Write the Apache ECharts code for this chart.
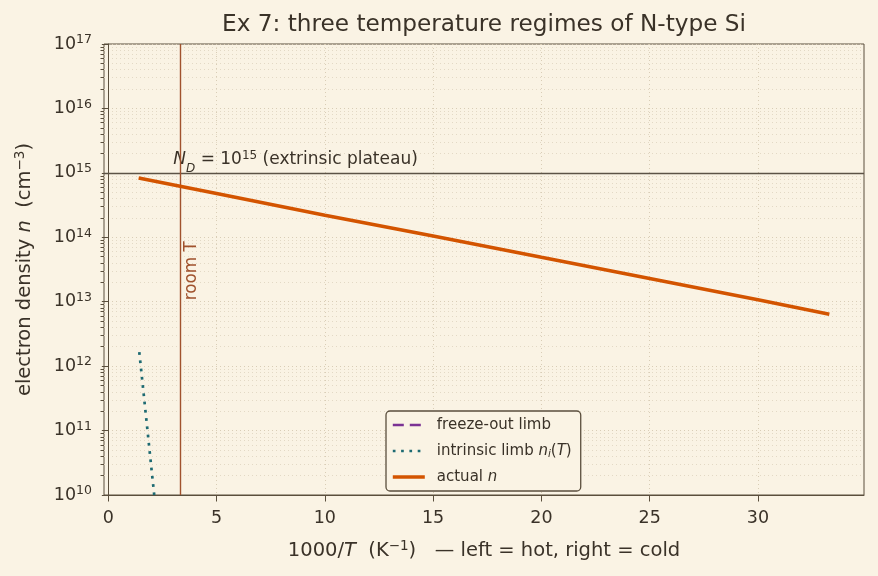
<!DOCTYPE html>
<html>
<head>
<meta charset="utf-8">
<script src="https://cdn.jsdelivr.net/npm/echarts@6/dist/echarts.min.js"></script>
<style>
html,body{margin:0;padding:0;background:#faf3e4;}
#c{width:878px;height:576px;}
</style>
</head>
<body>
<div id="c"></div>
<script>
// ---- data ----
const actualX = [1.4, 5, 10, 15, 20, 25, 30, 33.3];
const actualN = [8.3e14, 4.8e14, 2.2e14, 1.05e14, 4.9e13, 2.3e13, 1.07e13, 6.4e12];
const intrinsicX = [1.43, 1.6, 1.8, 2.0, 2.12];
const intrinsicN = [1.65e12, 4.7e11, 1.07e11, 2.4e10, 1.0e10];
const freezeX = [];
const freezeN = [];
const ND = 1e15;
const roomT = 1000 / 300;
const xTicks = [0, 5, 10, 15, 20, 25, 30];

const minorY = [];
for (let d = 10; d < 17; d++) for (let m = 2; m <= 9; m++) minorY.push(m * Math.pow(10, d));

const zip = (a, b) => a.map((v, i) => [v, b[i]]);
const txt = '#3a3228';
const frame = '#5a4e3c';
const FONT = 'DejaVu Sans';
const TICK = 17.5;
const LAB = 19.5;
const C_FREEZE = '#7b3294', C_INTR = '#1d6a72', C_ACT = '#d35400';

const chart = echarts.init(document.getElementById('c'), null, {renderer: 'canvas'});
const tickRich = {
  n: {fontSize: TICK, color: txt, fontFamily: FONT},
  sup: {fontSize: 12.5, color: txt, fontFamily: FONT, verticalAlign: 'bottom', padding: [0, 0, 8, 0]}
};
const labRich = {
  t: {fontSize: LAB, color: txt, fontFamily: FONT},
  sup: {fontSize: 13.5, color: txt, fontFamily: FONT, verticalAlign: 'bottom', padding: [0, 0, 9, 0]},
  i: {fontSize: LAB, color: txt, fontFamily: FONT, fontStyle: 'italic'}
};
const LH = 18;

chart.setOption({
  backgroundColor: '#faf3e4',
  animation: false,
  textStyle: {fontFamily: FONT},
  title: {
    text: 'Ex 7: three temperature regimes of N-type Si',
    left: 479, top: 8, textAlign: 'center',
    textStyle: {fontFamily: FONT, fontSize: 23.2, fontWeight: 'normal', color: txt}
  },
  grid: {left: 104, right: 14, top: 44, bottom: 81, show: true, borderColor: frame, borderWidth: 1, backgroundColor: 'transparent'},
  legend: {
    data: [
      {name: 'freeze-out limb', lineStyle: {width: 2.4, type: [11, 6], color: C_FREEZE}},
      {name: 'intrinsic limb n_i(T)', lineStyle: {width: 2.7, type: [2.7, 5.6], color: C_INTR}},
      {name: 'actual n', lineStyle: {width: 3.6, type: 'solid', color: C_ACT}}
    ],
    orient: 'vertical', left: 386, top: 411,
    itemWidth: 32, itemHeight: 14, itemGap: 8,
    padding: [5, 9, 5, 5],
    borderColor: frame, borderWidth: 1.3, borderRadius: 4,
    backgroundColor: '#faf3e4',
    itemStyle: {opacity: 0},
    formatter: function (name) {
      if (name === 'intrinsic limb n_i(T)') return '{sp|}{t|intrinsic limb }{i|n}{s|i}{t|(}{i|T}{t|)}';
      if (name === 'actual n') return '{sp|}{t|actual }{i|n}';
      return '{sp|}{t|' + name + '}';
    },
    textStyle: {
      fontFamily: FONT, fontSize: 15, color: txt, lineHeight: LH,
      rich: {
        sp: {width: 7, lineHeight: LH},
        t: {fontFamily: FONT, fontSize: 15, color: txt, lineHeight: LH},
        i: {fontFamily: FONT, fontSize: 15, color: txt, fontStyle: 'italic', lineHeight: LH},
        s: {fontFamily: FONT, fontSize: 10.5, color: txt, fontStyle: 'italic', verticalAlign: 'bottom', lineHeight: 12}
      }
    }
  },
  xAxis: {
    type: 'value', min: -0.2, max: 34.9,
    name: '{t|1000/}{i|T}{t|  (K}{sup|−1}{t|)   — left = hot, right = cold}',
    nameLocation: 'middle', nameGap: 44,
    nameTextStyle: {fontFamily: FONT, fontSize: LAB, color: txt, rich: labRich},
    axisLine: {show: true, lineStyle: {color: frame, width: 1}},
    axisTick: {show: true, length: 6.5, lineStyle: {color: frame}, customValues: xTicks},
    axisLabel: {customValues: xTicks, color: txt, fontSize: TICK, fontFamily: FONT, margin: 14},
    splitLine: {show: true, lineStyle: {color: '#d9cdb6', type: [1, 3], width: 1}}
  },
  yAxis: [{
    type: 'log', logBase: 10, min: 1e10, max: 1e17,
    name: '{t|electron density }{i|n}{t|  (cm}{sup|−3}{t|)}',
    nameLocation: 'middle', nameGap: 68, nameRotate: 90,
    nameTextStyle: {fontFamily: FONT, fontSize: LAB, color: txt, rich: labRich},
    axisLine: {show: true, lineStyle: {color: frame, width: 1}},
    axisTick: {show: true, length: 6.5, lineStyle: {color: frame}},
    axisLabel: {
      color: txt, fontSize: TICK, fontFamily: FONT, margin: 12,
      formatter: v => '{n|10}{sup|' + Math.round(Math.log10(v)) + '}',
      rich: tickRich
    },
    splitLine: {show: true, lineStyle: {color: '#d9cdb6', type: [1, 3], width: 1}}
  }, {
    type: 'log', logBase: 10, min: 1e10, max: 1e17, position: 'left',
    axisLine: {show: false},
    axisTick: {show: true, length: 3.5, lineStyle: {color: frame}, customValues: minorY},
    axisLabel: {show: false},
    splitLine: {show: true, lineStyle: {color: '#e3d9c5', type: [1, 3], width: 1}}
  }],
  series: [{
    name: 'freeze-out limb', type: 'line', data: zip(freezeX, freezeN),
    symbol: 'none', lineStyle: {color: C_FREEZE, width: 2.4, type: [11, 6]}, itemStyle: {color: C_FREEZE}
  }, {
    name: 'intrinsic limb n_i(T)', type: 'line', data: zip(intrinsicX, intrinsicN),
    symbol: 'none', lineStyle: {color: C_INTR, width: 2.7, type: [2.7, 5.6]}, itemStyle: {color: C_INTR}
  }, {
    name: 'actual n', type: 'line', data: zip(actualX, actualN),
    symbol: 'none', lineStyle: {color: C_ACT, width: 3.6}, itemStyle: {color: C_ACT}, z: 5
  }, {
    name: 'refs', type: 'line', data: [], symbol: 'none',
    markLine: {
      silent: true, symbol: 'none', animation: false,
      label: {show: false},
      data: [
        {yAxis: ND, lineStyle: {color: '#5c5346', width: 1.4, type: 'solid'}},
        {xAxis: roomT, lineStyle: {color: '#a0522d', width: 1.4, type: 'solid'}}
      ]
    }
  }]
});

// annotations placed through the axes' own scales
const pND = chart.convertToPixel({xAxisIndex: 0, yAxisIndex: 0}, [3.0, ND]);
const pRT = chart.convertToPixel({xAxisIndex: 0, yAxisIndex: 0}, [roomT + 0.12, 1.05e13]);
chart.setOption({
  graphic: [{
    type: 'text', x: pND[0], y: pND[1] - 3,
    style: {
      text: '{i|N}{s|D}{t| = 10}{p|15}{t| (extrinsic plateau)}',
      verticalAlign: 'bottom', align: 'left',
      rich: {
        t: {fontFamily: FONT, fontSize: 17, fill: txt},
        i: {fontFamily: FONT, fontSize: 17, fill: txt, fontStyle: 'italic'},
        s: {fontFamily: FONT, fontSize: 12, fill: txt, fontStyle: 'italic', verticalAlign: 'bottom', padding: [0, 0, -5, 0]},
        p: {fontFamily: FONT, fontSize: 12, fill: txt, verticalAlign: 'bottom', padding: [0, 0, 8, 0]}
      }
    }
  }, {
    type: 'text', x: pRT[0], y: pRT[1], rotation: Math.PI / 2,
    style: {text: 'room T', fontFamily: FONT, fontSize: 16.8, fill: '#a0522d', align: 'left', verticalAlign: 'top'}
  }]
});
</script>
</body>
</html>
